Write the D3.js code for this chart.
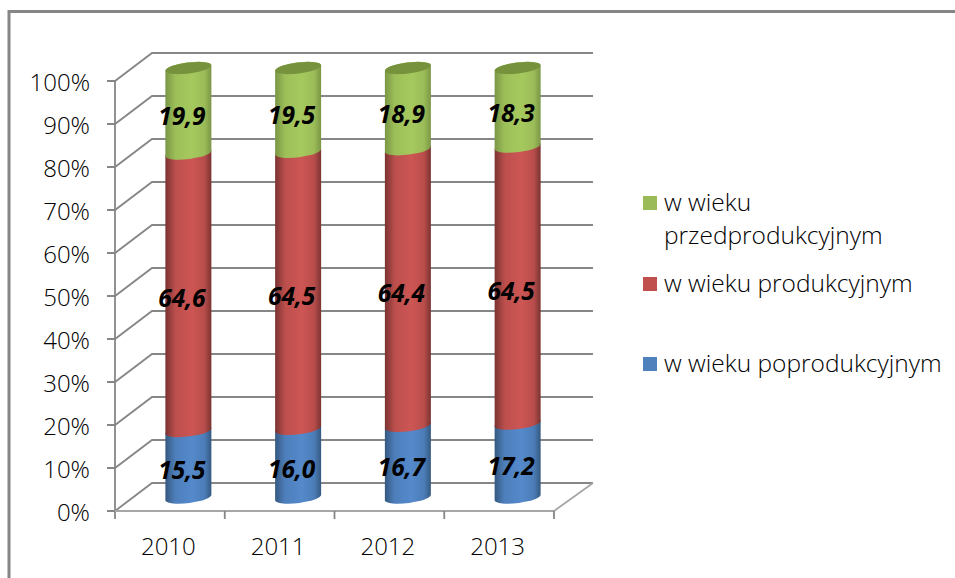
<!DOCTYPE html>
<html lang="en">
<head>
    <meta charset="UTF-8">
    <title>Struktura wieku</title>
    <script src="https://cdn.jsdelivr.net/npm/d3@7"></script>
    <style>
        html, body { margin: 0; padding: 0; background: #fff; overflow: hidden; }
        text { font-family: "Open Sans", sans-serif; fill: #000; }
    </style>
</head>
<body>
<svg width="955" height="578"></svg>
<script>
    const years = ["2010", "2011", "2012", "2013"];
    const poprodukcyjny = [15.5, 16.0, 16.7, 17.2];
    const produkcyjny = [64.6, 64.5, 64.4, 64.5];
    const przedprodukcyjny = [19.9, 19.5, 18.9, 18.3];
    const yTicks = [0, 10, 20, 30, 40, 50, 60, 70, 80, 90, 100];
    const seriesNames = ["w wieku poprodukcyjnym", "w wieku produkcyjnym", "w wieku przedprodukcyjnym"];

    let svg = d3.select("svg");
    let defs = svg.append("defs");

    // depth of the fake 3d box
    let depthX = 37, depthY = -28;
    let scaleX = d3.scaleBand().domain(years).range([115, 554]);
    let scaleY = d3.scaleLinear().domain([0, 100]).range([511, 81]);
    // columns stand in the middle of the floor so their own scale is a bit shorter
    let scaleBar = d3.scaleLinear().domain([0, 100]).range([497.5, 68]);

    let series = [
        {name: "blue", values: poprodukcyjny, dark: "#35597f", mid: "#5489cb", legend: "#4f81bd"},
        {name: "red", values: produkcyjny, dark: "#7a3331", mid: "#cd5654", legend: "#c0504d"},
        {name: "green", values: przedprodukcyjny, dark: "#7a9645", mid: "#a6c95e", legend: "#9bbb59"}
    ];

    series.forEach(function (s) {
        let g = defs.append("linearGradient").attr("id", "grad-" + s.name);
        g.append("stop").attr("offset", "0%").attr("stop-color", s.dark);
        g.append("stop").attr("offset", "22%").attr("stop-color", d3.interpolateRgb(s.dark, s.mid)(0.8));
        g.append("stop").attr("offset", "58%").attr("stop-color", s.mid);
        g.append("stop").attr("offset", "85%").attr("stop-color", d3.interpolateRgb(s.dark, s.mid)(0.75));
        g.append("stop").attr("offset", "100%").attr("stop-color", s.dark);
    });

    // outer frame, runs off the right and bottom of the page
    svg.append("path")
        .attr("d", "M9,578V11.5H955")
        .style("fill", "none").style("stroke", "#868686").style("stroke-width", 3);

    let grid = svg.append("g").style("fill", "none").style("stroke", "#868686").style("stroke-width", 1.8);
    yTicks.forEach(function (t) {
        let y = scaleY(t);
        let path = d3.path();
        path.moveTo(107, y);
        path.lineTo(115, y);
        path.lineTo(115 + depthX, y + depthY);
        path.lineTo(554 + depthX + 2, y + depthY);
        grid.append("path").attr("d", path.toString());
        svg.append("text")
            .attr("x", 90).attr("y", y + 9.5)
            .attr("text-anchor", "end")
            .style("font-size", "24px").style("font-weight", 300)
            .text(t + "%");
    });

    // floor edge and the left axis
    grid.append("line").attr("x1", 115).attr("x2", 115).attr("y1", scaleY(100)).attr("y2", 519);
    grid.append("line").attr("x1", 115).attr("x2", 554).attr("y1", 511).attr("y2", 511).style("stroke", "#a6a6a6").style("stroke-width", 2);
    grid.append("line").attr("x1", 554).attr("x2", 554 + depthX + 2).attr("y1", 511).attr("y2", 511 + depthY).style("stroke", "#a6a6a6");
    scaleX.domain().forEach(function (d) {
        let x = scaleX(d) + scaleX.bandwidth();
        grid.append("line").attr("x1", x).attr("x2", x).attr("y1", 511).attr("y2", 519);
    });

    years.forEach(function (year, i) {
        let cx = scaleX(year) + scaleX.bandwidth() / 2 + depthX / 2;
        let rx = 23, ry = 5.5, tilt = 3;
        let base = 0;
        series.forEach(function (s) {
            let v = s.values[i];
            let y0 = scaleBar(base), y1 = scaleBar(base + v);
            let d = "M" + (cx - rx) + "," + (y1 + tilt)
                + "L" + (cx - rx) + "," + (y0 + tilt)
                + "A" + rx + "," + ry + " -7 0 0 " + (cx + rx) + "," + (y0 - tilt)
                + "L" + (cx + rx) + "," + (y1 - tilt)
                + "A" + rx + "," + ry + " -7 0 0 " + (cx - rx) + "," + (y1 + tilt) + "Z";
            svg.append("path").attr("d", d).style("fill", "url(#grad-" + s.name + ")");
            base += v;
        });
        // cap of the cylinder
        svg.append("ellipse")
            .attr("cx", cx).attr("cy", scaleBar(100)).attr("rx", rx).attr("ry", ry)
            .attr("transform", "rotate(-7 " + cx + " " + scaleBar(100) + ")")
            .style("fill", "#76923c");
    });

    // labels go on top of all columns
    years.forEach(function (year, i) {
        let lx = scaleX(year) + scaleX.bandwidth() / 2 + 12;
        let base = 0;
        series.forEach(function (s) {
            let v = s.values[i];
            svg.append("text")
                .attr("x", lx).attr("y", scaleBar(base + v / 2) + 14.5)
                .attr("text-anchor", "middle")
                .style("font-size", "24.5px").style("font-weight", 700).style("font-style", "italic")
                .text(v.toFixed(1).replace(".", ","));
            base += v;
        });
        svg.append("text")
            .attr("x", scaleX(year) + scaleX.bandwidth() / 2 - 1.5).attr("y", 555)
            .attr("text-anchor", "middle")
            .style("font-size", "24px").style("font-weight", 300)
            .text(year);
    });

    // legend, top entry wraps on two lines
    let legendY = [196, 277, 357];
    let legendLines = [["w wieku", "przedprodukcyjnym"], [seriesNames[1]], [seriesNames[0]]];
    let legendColors = [series[2].legend, series[1].legend, series[0].legend];
    legendY.forEach(function (y, i) {
        svg.append("rect").attr("x", 643).attr("y", y).attr("width", 14).attr("height", 14).style("fill", legendColors[i]);
        legendLines[i].forEach(function (line, j) {
            svg.append("text")
                .attr("x", 664).attr("y", y + 14.5 + j * 33)
                .style("font-size", "24.5px").style("font-weight", 300)
                .text(line);
        });
    });
</script>
</body>
</html>
